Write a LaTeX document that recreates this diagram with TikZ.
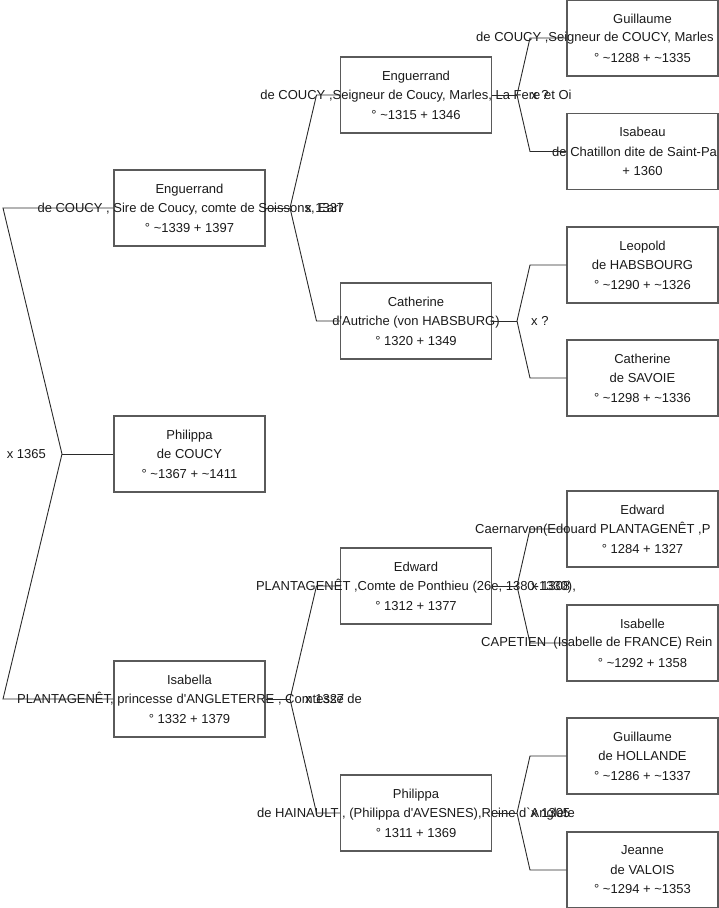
\documentclass[tikz,border=0pt]{standalone}
\usepackage{fontspec}
\setmainfont{Liberation Sans}
\usetikzlibrary{positioning}
\definecolor{boxline}{HTML}{5A5A5A}
\definecolor{linkline}{HTML}{2A2A2A}
\definecolor{inktext}{HTML}{1A1A1A}
\newcommand{\tild}{\textasciitilde}
\newcommand{\apos}{\textquotesingle}
\newcommand{\grv}{\textasciigrave}

\begin{document}
\begin{tikzpicture}[x=1pt, y=-1pt,
    person/.style={draw=boxline, line width=1.2pt, minimum width=151pt, minimum height=76pt, inner sep=0pt},
    who/.style={align=center, text=inktext, inner sep=0pt, font=\fontsize{13}{19.5}\selectfont},
    whoclip/.style={anchor=west, text=inktext, inner sep=0pt, font=\fontsize{13}{15}\selectfont},
    link/.style={draw=linkline, line width=0.9pt},
    wed/.style={text=inktext, inner sep=0pt, font=\fontsize{13}{15}\selectfont}]
    \useasboundingbox (0,0) rectangle (719,908);

    % generation 1
    \node[person] (enguerrandA) at (189.5,208) {};
    \node[who] (enguerrandAtxt) at (enguerrandA) {Enguerrand\\de COUCY , Sire de Coucy, comte de Soissons, Earl\\° \tild1339 + 1397};
    \node[person] (philippaA) at (189.5,454) {};
    \node[who] (philippaAtxt) at (philippaA) {Philippa\\de COUCY\\° \tild1367 + \tild1411};
    \node[person] (isabellaA) at (189.5,699) {};
    \node[who] (isabellaAtxt) at (isabellaA) {Isabella\\PLANTAGENÊT, princesse d\apos ANGLETERRE , Comtesse de\\° 1332 + 1379};

    % generation 2
    \node[person] (enguerrandB) at (416,95) {};
    \node[who] (enguerrandBtxt) at (enguerrandB) {Enguerrand\\de COUCY ,Seigneur de Coucy, Marles, La Fere et Oi\\° \tild1315 + 1346};
    \node[person] (catherineB) at (416,321) {};
    \node[who] (catherineBtxt) at (catherineB) {Catherine\\d\apos Autriche (von HABSBURG)\\° 1320 + 1349};
    \node[person] (edwardB) at (416,586) {};
    \node[who] (edwardBtxt) at (edwardB) {Edward\\PLANTAGENÊT ,Comte de Ponthieu (26e, 1380-1330),\\° 1312 + 1377};
    \node[person] (philippaB) at (416,813) {};
    \node[who] (philippaBtxt) at (philippaB) {Philippa\\de HAINAULT , (Philippa d\apos AVESNES),Reine d\grv Anglete\\° 1311 + 1369};

    % generation 3
    \node[person] (guillaumeC) at (642.5,38) {};
    \node[who] (guillaumeCtxt) at (guillaumeC) {Guillaume\\\mbox{}\\° \tild1288 + \tild1335};
    \node[whoclip] (guillaumeCmid) at (476,38) {de COUCY ,Seigneur de COUCY, Marles};
    \node[person] (isabeauC) at (642.5,151.5) {};
    \node[who] (isabeauCtxt) at (isabeauC) {Isabeau\\\mbox{}\\+ 1360};
    \node[whoclip] (isabeauCmid) at (552,151.5) {de Chatillon dite de Saint-Pa};
    \node[person] (leopoldC) at (642.5,265) {};
    \node[who] (leopoldCtxt) at (leopoldC) {Leopold\\de HABSBOURG\\° \tild1290 + \tild1326};
    \node[person] (catherineC) at (642.5,378) {};
    \node[who] (catherineCtxt) at (catherineC) {Catherine\\de SAVOIE\\° \tild1298 + \tild1336};
    \node[person] (edwardC) at (642.5,529) {};
    \node[who] (edwardCtxt) at (edwardC) {Edward\\\mbox{}\\° 1284 + 1327};
    \node[whoclip] (edwardCmid) at (475,529) {Caernarvon(Edouard PLANTAGENÊT ,P};
    \node[person] (isabelleC) at (642.5,643) {};
    \node[who] (isabelleCtxt) at (isabelleC) {Isabelle\\\mbox{}\\° \tild1292 + 1358};
    \node[whoclip] (isabelleCmid) at (481,643) {CAPETIEN \ (Isabelle de FRANCE) Rein};
    \node[person] (guillaumeD) at (642.5,756) {};
    \node[who] (guillaumeDtxt) at (guillaumeD) {Guillaume\\de HOLLANDE\\° \tild1286 + \tild1337};
    \node[person] (jeanneC) at (642.5,870) {};
    \node[who] (jeanneCtxt) at (jeanneC) {Jeanne\\de VALOIS\\° \tild1294 + \tild1353};

    % forks
    \coordinate (forkA) at (62,454);
    \coordinate (forkAup) at (3,208);
    \coordinate (forkAdn) at (3,699);
    \draw[link] (philippaA.west) -- (forkA);
    \draw[link] (enguerrandA.west) -- (forkAup) -- (forkA) -- (forkAdn) -- (isabellaA.west);

    \coordinate (forkB) at (290,208);
    \coordinate (forkBup) at (316.5,95);
    \coordinate (forkBdn) at (316.5,321);
    \draw[link] (enguerrandA.east) -- (forkB);
    \draw[link] (enguerrandB.west) -- (forkBup) -- (forkB) -- (forkBdn) -- (catherineB.west);

    \coordinate (forkC) at (290,699);
    \coordinate (forkCup) at (316.5,586);
    \coordinate (forkCdn) at (316.5,813);
    \draw[link] (isabellaA.east) -- (forkC);
    \draw[link] (edwardB.west) -- (forkCup) -- (forkC) -- (forkCdn) -- (philippaB.west);

    \coordinate (forkD) at (517,95);
    \coordinate (forkDup) at (530,38);
    \coordinate (forkDdn) at (530,151.5);
    \draw[link] (enguerrandB.east) -- (forkD);
    \draw[link] (guillaumeC.west) -- (forkDup) -- (forkD) -- (forkDdn) -- (isabeauC.west);

    \coordinate (forkE) at (517,321);
    \coordinate (forkEup) at (530,265);
    \coordinate (forkEdn) at (530,378);
    \draw[link] (catherineB.east) -- (forkE);
    \draw[link] (leopoldC.west) -- (forkEup) -- (forkE) -- (forkEdn) -- (catherineC.west);

    \coordinate (forkF) at (517,586);
    \coordinate (forkFup) at (530,529);
    \coordinate (forkFdn) at (530,643);
    \draw[link] (edwardB.east) -- (forkF);
    \draw[link] (edwardC.west) -- (forkFup) -- (forkF) -- (forkFdn) -- (isabelleC.west);

    \coordinate (forkG) at (517,813);
    \coordinate (forkGup) at (530,756);
    \coordinate (forkGdn) at (530,870);
    \draw[link] (philippaB.east) -- (forkG);
    \draw[link] (guillaumeD.west) -- (forkGup) -- (forkG) -- (forkGdn) -- (jeanneC.west);

    % marriages
    \node[wed, left=16pt of forkA] (wedA) {x 1365};
    \node[wed, right=15pt of forkB] (wedB) {x 1337};
    \node[wed, right=15pt of forkC] (wedC) {x 1327};
    \node[wed, right=14pt of forkD] (wedD) {x ?};
    \node[wed, right=14pt of forkE] (wedE) {x ?};
    \node[wed, right=14pt of forkF] (wedF) {x 1308};
    \node[wed, right=14pt of forkG] (wedG) {x 1305};
\end{tikzpicture}
\end{document}
